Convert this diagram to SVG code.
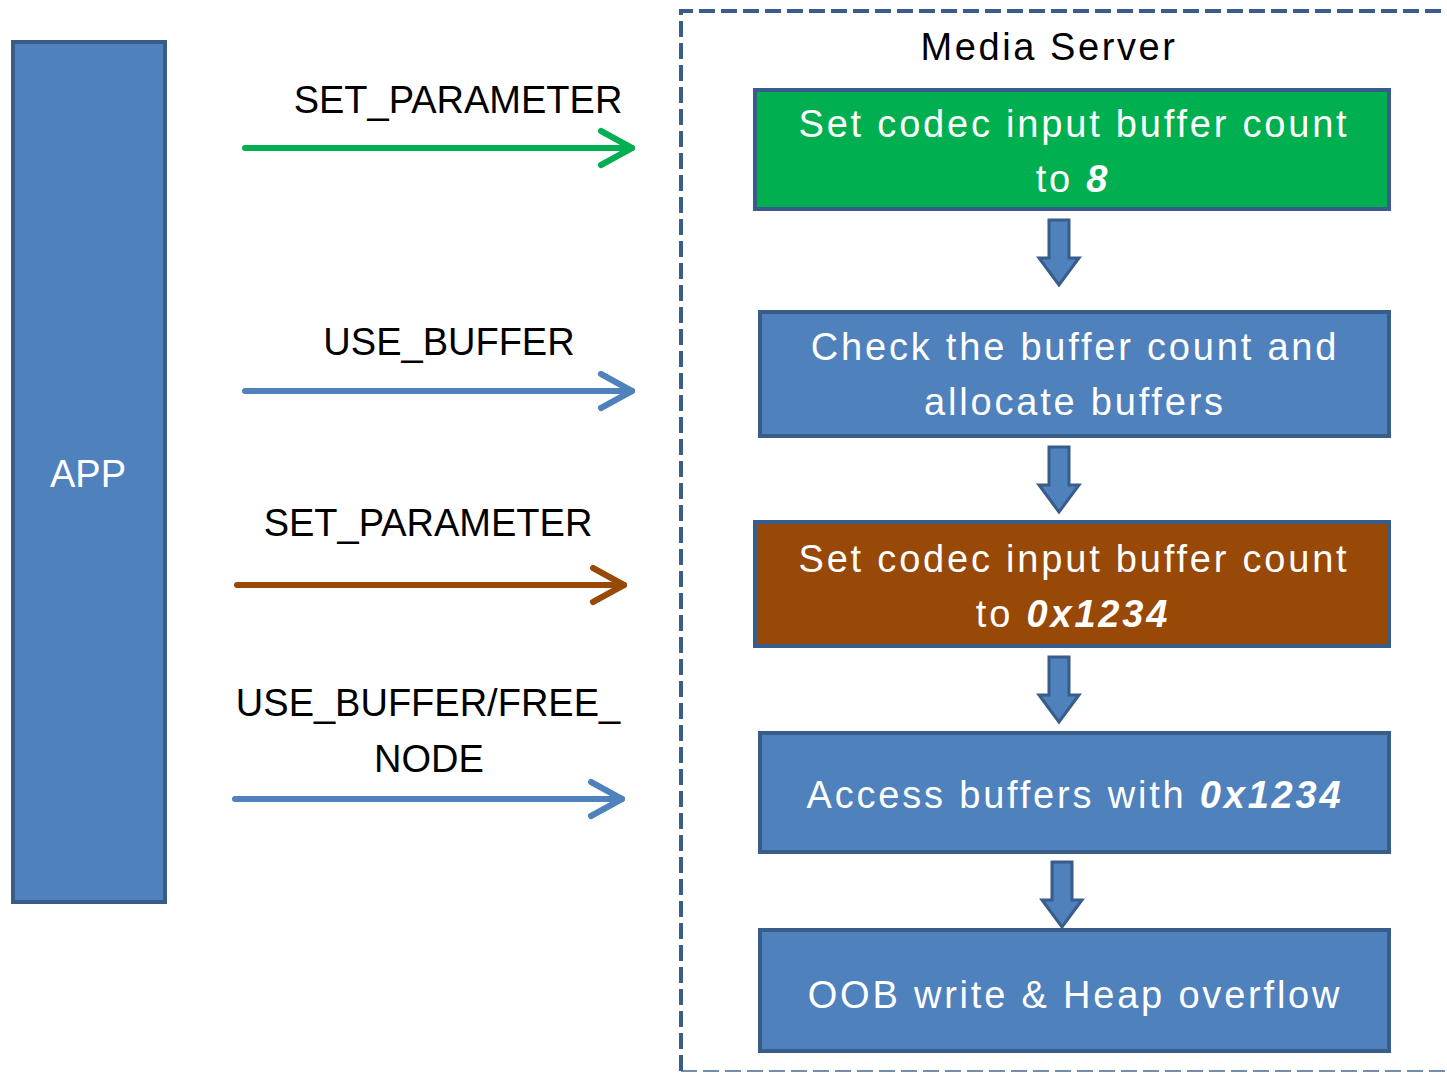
<svg xmlns="http://www.w3.org/2000/svg" width="1447" height="1073" viewBox="0 0 1447 1073">
  <style>
    text { font-family: "Liberation Sans", Arial, sans-serif; }
    .lbl { font-size: 38px; fill: #000; text-anchor: middle; }
    .title { letter-spacing: 2.6px; }
    .box { stroke: #385d8a; stroke-width: 4; }
    .blue { fill: #4f81bd; }
    .in { font-size: 38px; fill: #fff; text-anchor: middle; }
    .sp { letter-spacing: 2.8px; }
    .em { font-weight: bold; font-style: italic; }
    .down { fill: #4f81bd; stroke: #385d8a; stroke-width: 3; stroke-linejoin: miter; }
    .conn { fill: none; stroke-width: 6; stroke-linecap: round; stroke-linejoin: round; }
  </style>

  <!-- Media server boundary -->
  <g id="media-server">
    <path d="M681 1071 V11 H1450" fill="none" stroke="#385d8a" stroke-width="4" stroke-dasharray="16 6"/>
    <path d="M681 1071 H1450" fill="none" stroke="#385d8a" stroke-width="2" stroke-dasharray="16 6" opacity="0.7"/>
    <text class="lbl title" x="1049" y="60">Media Server</text>
  </g>

  <!-- App lane -->
  <g id="app">
    <rect class="box blue" x="13" y="42" width="152" height="860"/>
    <text class="in" x="88" y="487">APP</text>
  </g>

  <!-- Server steps -->
  <g id="step-set-count-8">
    <rect class="box" fill="#00b050" x="755" y="90" width="634" height="119"/>
    <text class="in sp" x="1074" y="137">Set codec input buffer count</text>
    <text class="in sp" x="1073" y="192">to <tspan class="em">8</tspan></text>
  </g>
  <g id="step-allocate">
    <rect class="box blue" x="760" y="312" width="629" height="124"/>
    <text class="in sp" x="1075" y="360">Check the buffer count and</text>
    <text class="in sp" x="1075" y="415">allocate buffers</text>
  </g>
  <g id="step-set-count-bad">
    <rect class="box" fill="#984807" x="755" y="522" width="634" height="124"/>
    <text class="in sp" x="1074" y="572">Set codec input buffer count</text>
    <text class="in sp" x="1073" y="627">to <tspan class="em">0x1234</tspan></text>
  </g>
  <g id="step-access">
    <rect class="box blue" x="760" y="733" width="629" height="119"/>
    <text class="in sp" x="1075" y="808">Access buffers with <tspan class="em">0x1234</tspan></text>
  </g>
  <g id="step-overflow">
    <rect class="box blue" x="760" y="930" width="629" height="121"/>
    <text class="in sp" x="1075" y="1008">OOB write &amp; Heap overflow</text>
  </g>

  <!-- Connectors -->
  <g id="connectors">
    <polygon class="down" points="1049,220 1069,220 1069,258 1079,258 1059,285 1039,258 1049,258"/>
    <polygon class="down" points="1049,447 1069,447 1069,485 1079,485 1059,512 1039,485 1049,485"/>
    <polygon class="down" points="1049,657 1069,657 1069,695 1079,695 1059,722 1039,695 1049,695"/>
    <polygon class="down" points="1052,862 1072,862 1072,900 1082,900 1062,927 1042,900 1052,900"/>

    <g stroke="#00b050" class="conn">
      <path d="M245 148 H632"/>
      <path d="M601 131 L632 148 L601 165"/>
    </g>
    <text class="lbl" x="458" y="113">SET_PARAMETER</text>

    <g stroke="#4f81bd" class="conn">
      <path d="M245 391 H632"/>
      <path d="M601 374 L632 391 L601 408"/>
    </g>
    <text class="lbl" x="449" y="355">USE_BUFFER</text>

    <g stroke="#984807" class="conn">
      <path d="M237 585 H624"/>
      <path d="M593 568 L624 585 L593 602"/>
    </g>
    <text class="lbl" x="428" y="536">SET_PARAMETER</text>

    <g stroke="#4f81bd" class="conn">
      <path d="M235 799 H622"/>
      <path d="M591 782 L622 799 L591 816"/>
    </g>
    <text class="lbl" x="428" y="716">USE_BUFFER/FREE_</text>
    <text class="lbl" x="429" y="772">NODE</text>
  </g>
</svg>
